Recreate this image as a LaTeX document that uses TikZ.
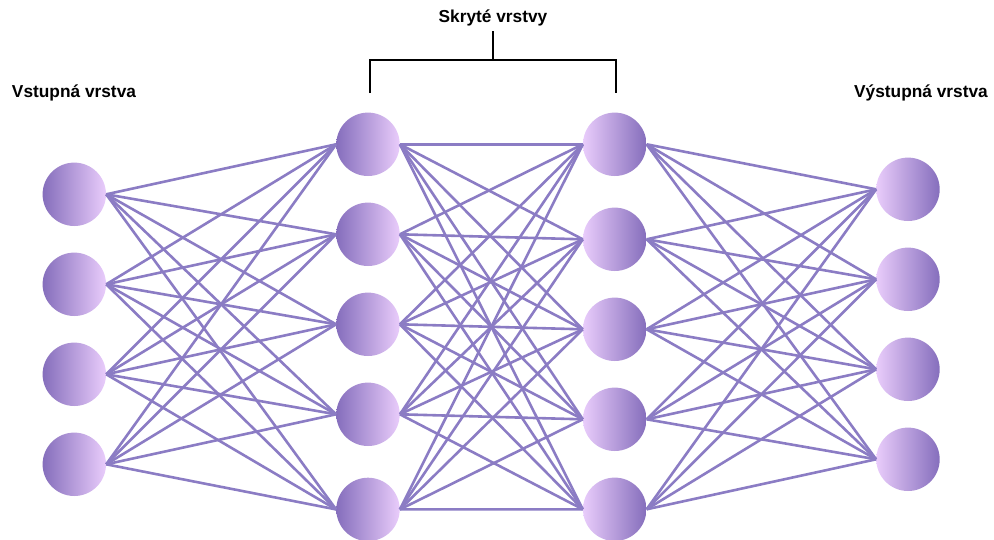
\documentclass[tikz,border=0pt]{standalone}
\usepackage{fontspec}
\setmainfont{Liberation Sans}
\usepackage{tikz}

\definecolor{neurondark}{RGB}{133,110,188}
\definecolor{neuronlight}{RGB}{233,204,251}
\definecolor{synapse}{RGB}{139,124,196}

\tikzset{
  neuronL/.style={circle, minimum size=63.4pt, inner sep=0pt, left color=neurondark, right color=neuronlight},
  neuronR/.style={circle, minimum size=63.4pt, inner sep=0pt, left color=neuronlight, right color=neurondark},
  layerlabel/.style={font=\bfseries\fontsize{17.3}{20}\selectfont}
}

\begin{document}
\begin{tikzpicture}[x=1pt, y=-1pt]
			\useasboundingbox (0,0) rectangle (994,539);
			
			% Input layer
			\foreach \i in {1,2,3,4} {
				\node[neuronL] (in\i) at (74.3, 104.3+90*\i) {};
			}
			
			% First hidden layer
			\foreach \i/\y in {1/144.3, 2/234.3, 3/324.3, 4/414.3, 5/509.4} {
				\node[neuronL] (ha\i) at (368, \y) {};
			}
			
			% Second hidden layer
			\foreach \i/\y in {1/144.3, 2/239.3, 3/329.3, 4/419.3, 5/509.3} {
				\node[neuronR] (hb\i) at (614.7, \y) {};
			}
			
			% Output layer
			\foreach \i in {1,2,3,4} {
				\node[neuronR] (out\i) at (908, 99.3+90*\i) {};
			}
			
			% Connections between layers
			\foreach \i in {1,...,4} {
				\foreach \j in {1,...,5} {
					\draw[synapse, line width=2.6pt] (in\i.east) -- (ha\j.west);
				}
			}
			\foreach \i in {1,...,5} {
				\foreach \j in {1,...,5} {
					\draw[synapse, line width=2.6pt] (ha\i.east) -- (hb\j.west);
				}
			}
			\foreach \i in {1,...,5} {
				\foreach \j in {1,...,4} {
					\draw[synapse, line width=2.6pt] (hb\i.east) -- (out\j.west);
				}
			}
			
			% Layer labels
			\node[layerlabel] (inlabel) at (74, 93) {Vstupná vrstva};
			\node[layerlabel] (outlabel) at (921, 93) {Výstupná vrstva};
			\node[layerlabel] (hidlabel) at (493, 18) {Skryté vrstvy};
			
			% Bracket over the hidden layers
			\coordinate (brl) at (370, 93);
			\coordinate (brr) at (616, 93);
			\coordinate (brm) at (493, 60);
			\draw[line width=2pt] (brl) -- (brl |- brm) -- (brr |- brm) -- (brr);
			\draw[line width=2pt] (brm) -- (493, 31);
			
		\end{tikzpicture}
\end{document}
